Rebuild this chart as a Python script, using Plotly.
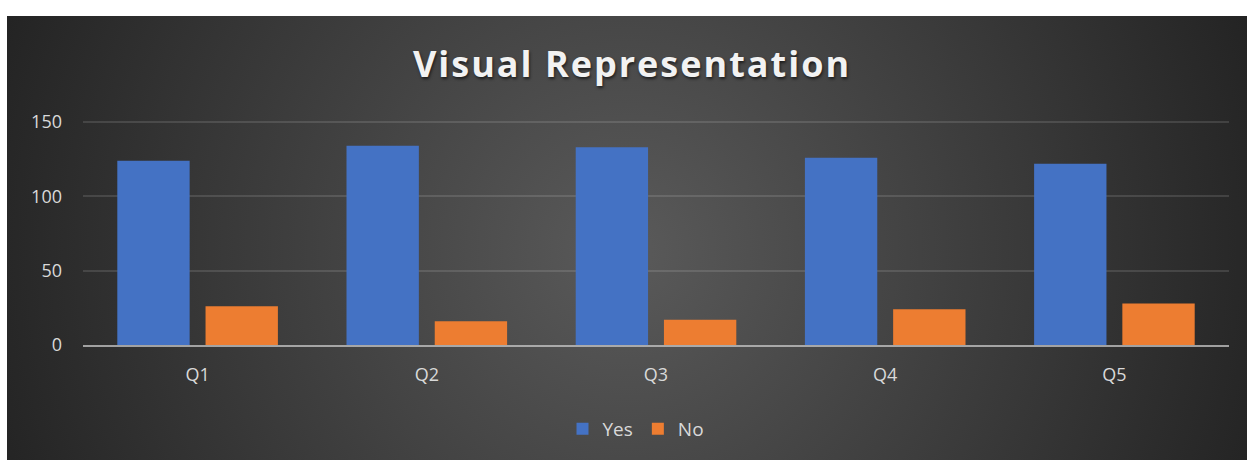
import base64
import plotly.graph_objects as go

# ---- data ----
categories = ["Q1", "Q2", "Q3", "Q4", "Q5"]
yes_values = [124, 134, 133, 126, 122]
no_values = [26, 16, 17, 24, 28]
y_tick_values = [0, 50, 100, 150]
title_text = "Visual Representation"

W, H = 1247, 460
ML, MR, MT, MB = 83, 18, 121, 115
PW, PH = W - ML - MR, H - MT - MB

# radial gradient background as an SVG image
svg = (
    '<svg xmlns="http://www.w3.org/2000/svg" width="1240" height="444" '
    'viewBox="0 0 1240 444" preserveAspectRatio="none"><defs>'
    '<radialGradient id="g" gradientUnits="userSpaceOnUse" cx="620" cy="235" r="660">'
    '<stop offset="0" stop-color="#5a5a5a"/><stop offset="1" stop-color="#242424"/>'
    '</radialGradient></defs><rect width="1240" height="444" fill="url(#g)"/></svg>'
)
bg_src = "data:image/svg+xml;base64," + base64.b64encode(svg.encode()).decode()

fig = go.Figure()
fig.add_bar(x=categories, y=yes_values, name="Yes",
            marker=dict(color="#4472C4", line=dict(width=0)))
fig.add_bar(x=categories, y=no_values, name="No",
            marker=dict(color="#ED7D31", line=dict(width=0)))

bg_x0 = (7 - ML) / PW
bg_y0 = (H - MB - 16) / PH
fig.add_layout_image(
    source=bg_src, xref="paper", yref="paper",
    x=bg_x0, y=bg_y0, sizex=(W - 7) / PW, sizey=(H - 16) / PH,
    xanchor="left", yanchor="top", sizing="stretch", layer="below",
)

tick_font = dict(family="Open Sans, sans-serif", size=18, color="#d9d9d9")

fig.update_layout(
    width=W, height=H,
    margin=dict(l=ML, r=MR, t=MT, b=MB, pad=0),
    paper_bgcolor="white",
    plot_bgcolor="rgba(0,0,0,0)",
    barmode="group", bargap=0.23, bargroupgap=0.18,
    title=dict(
        text=title_text, xref="container", x=632 / W, xanchor="center",
        yref="container", y=1 - 64 / H, yanchor="middle",
        font=dict(family="Open Sans, sans-serif", size=36, weight="bold",
                  color="#f2f2f2", shadow="1px 2px 3px rgba(0,0,0,0.6)"),
    ),
    showlegend=True,
    legend=dict(
        orientation="h", x=(636 - ML) / PW, xanchor="center",
        y=(H - MB - 429) / PH, yanchor="middle",
        font=dict(family="Open Sans, sans-serif", size=19, color="#d9d9d9"),
        bgcolor="rgba(0,0,0,0)", itemwidth=30,
    ),
    xaxis=dict(
        showgrid=False, showline=True, linecolor="rgba(200,200,200,0.75)",
        linewidth=2, ticks="", tickfont=tick_font, ticklabelstandoff=12,
        zeroline=False,
    ),
    yaxis=dict(
        range=[0, 150.7], tickvals=y_tick_values, showgrid=True,
        gridcolor="rgba(255,255,255,0.12)", gridwidth=2, zeroline=False,
        showline=False, ticks="", tickfont=tick_font, ticklabelstandoff=20,
    ),
)

fig.write_html(
    "out.html",
    config={"displayModeBar": False},
    post_script=(
        "document.body.style.margin='0';document.body.style.overflow='hidden';"
        "document.querySelectorAll('.gtitle').forEach(function(e){e.style.letterSpacing='2px';});"
    ),
)
